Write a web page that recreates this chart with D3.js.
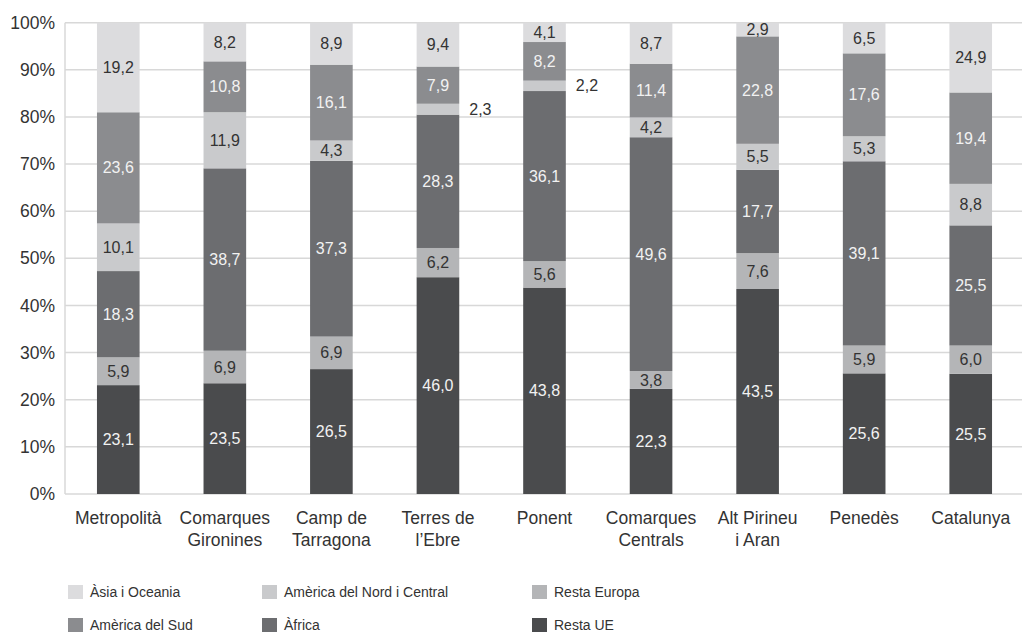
<!DOCTYPE html>
<html>
<head>
<meta charset="utf-8">
<script src="https://cdn.jsdelivr.net/npm/d3@7"></script>
<style>
  html, body { margin: 0; padding: 0; background: #fff; }
  svg { display: block; font-family: "Liberation Sans", Arial, Helvetica, sans-serif; }
</style>
</head>
<body>
<svg id="chart" width="1022" height="638"></svg>
<script>
// ---- Data ----
const categories = [
  ["Metropolità"],
  ["Comarques", "Gironines"],
  ["Camp de", "Tarragona"],
  ["Terres de", "l’Ebre"],
  ["Ponent"],
  ["Comarques", "Centrals"],
  ["Alt Pirineu", "i Aran"],
  ["Penedès"],
  ["Catalunya"]
];
// stacked bottom -> top
const seriesNames = ["Resta UE", "Resta Europa", "Àfrica", "Amèrica del Nord i Central", "Amèrica del Sud", "Àsia i Oceania"];
const restaUE      = [23.1, 23.5, 26.5, 46.0, 43.8, 22.3, 43.5, 25.6, 25.5];
const restaEuropa  = [5.9, 6.9, 6.9, 6.2, 5.6, 3.8, 7.6, 5.9, 6.0];
const africa       = [18.3, 38.7, 37.3, 28.3, 36.1, 49.6, 17.7, 39.1, 25.5];
const americaNord  = [10.1, 11.9, 4.3, 2.3, 2.2, 4.2, 5.5, 5.3, 8.8];
const americaSud   = [23.6, 10.8, 16.1, 7.9, 8.2, 11.4, 22.8, 17.6, 19.4];
const asiaOceania  = [19.2, 8.2, 8.9, 9.4, 4.1, 8.7, 2.9, 6.5, 24.9];
const seriesValues = [restaUE, restaEuropa, africa, americaNord, americaSud, asiaOceania];
const yTicks = [0, 10, 20, 30, 40, 50, 60, 70, 80, 90, 100];

// legend order (as displayed, rows of three)
const legendOrder = ["Àsia i Oceania", "Amèrica del Nord i Central", "Resta Europa",
                     "Amèrica del Sud", "Àfrica", "Resta UE"];

// ---- Styles ----
const colors = {
  "Resta UE": "#4a4b4d",
  "Resta Europa": "#b4b5b7",
  "Àfrica": "#6c6d70",
  "Amèrica del Nord i Central": "#c9cacc",
  "Amèrica del Sud": "#8b8c8f",
  "Àsia i Oceania": "#dcdcde"
};
const lightText = {"Resta UE": true, "Àfrica": true, "Amèrica del Sud": true};

const svg = d3.select("#chart");
const plotLeft = 65, plotRight = 1024, plotTop = 22.7, plotBottom = 494;

const x = d3.scaleBand().domain(d3.range(categories.length))
  .range([plotLeft, plotRight]).paddingInner(0.6).paddingOuter(0.3);
const y = d3.scaleLinear().domain([0, 100]).range([plotBottom, plotTop]).clamp(true);

// gridlines
svg.append("g").selectAll("line").data(yTicks).join("line")
  .attr("x1", plotLeft).attr("x2", 1022)
  .attr("y1", d => y(d)).attr("y2", d => y(d))
  .attr("stroke", "#d8d8d8").attr("stroke-width", 1.5);
// left axis line
svg.append("line").attr("x1", plotLeft).attr("x2", plotLeft)
  .attr("y1", y(100)).attr("y2", y(0))
  .attr("stroke", "#d8d8d8").attr("stroke-width", 1.5);

// y axis labels
const yAxis = d3.axisLeft(y).tickValues(yTicks).tickFormat(d => d + "%").tickSize(0).tickPadding(10);
const ya = svg.append("g").attr("transform", `translate(${plotLeft},0)`).call(yAxis);
ya.select(".domain").remove();
ya.selectAll("text").attr("font-size", 17.5).attr("fill", "#333")
  .attr("font-family", "'Liberation Sans', Arial, sans-serif");

// stack
const rows = categories.map((c, i) => {
  const r = {i};
  seriesNames.forEach((s, k) => r[s] = seriesValues[k][i]);
  return r;
});
const stacked = d3.stack().keys(seriesNames)(rows);

const gBars = svg.append("g");
stacked.forEach(layer => {
  const name = layer.key;
  gBars.append("g").selectAll("rect").data(layer).join("rect")
    .attr("x", d => x(d.data.i))
    .attr("width", x.bandwidth())
    .attr("y", d => y(d[1]))
    .attr("height", d => Math.max(0, y(d[0]) - y(d[1])))
    .attr("fill", colors[name]);
});

// value labels
const gLab = svg.append("g").attr("font-size", 16);
stacked.forEach(layer => {
  const name = layer.key;
  layer.forEach(d => {
    const v = d.data[name];
    const y0 = y(d[0]), y1 = y(d[1]);
    const h = y0 - y1;
    const cy = (y0 + y1) / 2;
    const txt = v.toFixed(1).replace(".", ",");
    if (h < 13) {
      gLab.append("text")
        .attr("x", x(d.data.i) + x.bandwidth() + 10)
        .attr("y", cy).attr("dy", "0.35em")
        .attr("text-anchor", "start").attr("fill", "#333").text(txt);
    } else {
      gLab.append("text")
        .attr("x", x(d.data.i) + x.bandwidth() / 2)
        .attr("y", cy).attr("dy", "0.35em")
        .attr("text-anchor", "middle")
        .attr("fill", lightText[name] ? "#f2f2f2" : "#333").text(txt);
    }
  });
});

// category labels
const gCat = svg.append("g").attr("font-size", 17.5).attr("fill", "#333").attr("text-anchor", "middle");
categories.forEach((lines, i) => {
  const t = gCat.append("text").attr("x", x(i) + x.bandwidth() / 2).attr("y", 524);
  lines.forEach((ln, j) => {
    t.append("tspan").attr("x", x(i) + x.bandwidth() / 2).attr("dy", j === 0 ? 0 : 21.5).text(ln);
  });
});

// legend
const legX = [68, 262, 532];
const legY = [592, 625];
const gLeg = svg.append("g").attr("font-size", 14).attr("fill", "#333");
legendOrder.forEach((name, k) => {
  const col = k % 3, row = Math.floor(k / 3);
  gLeg.append("rect").attr("x", legX[col]).attr("y", legY[row] - 7)
    .attr("width", 15).attr("height", 14).attr("fill", colors[name]);
  gLeg.append("text").attr("x", legX[col] + 22).attr("y", legY[row]).attr("dy", "0.35em").text(name);
});
</script>
</body>
</html>
